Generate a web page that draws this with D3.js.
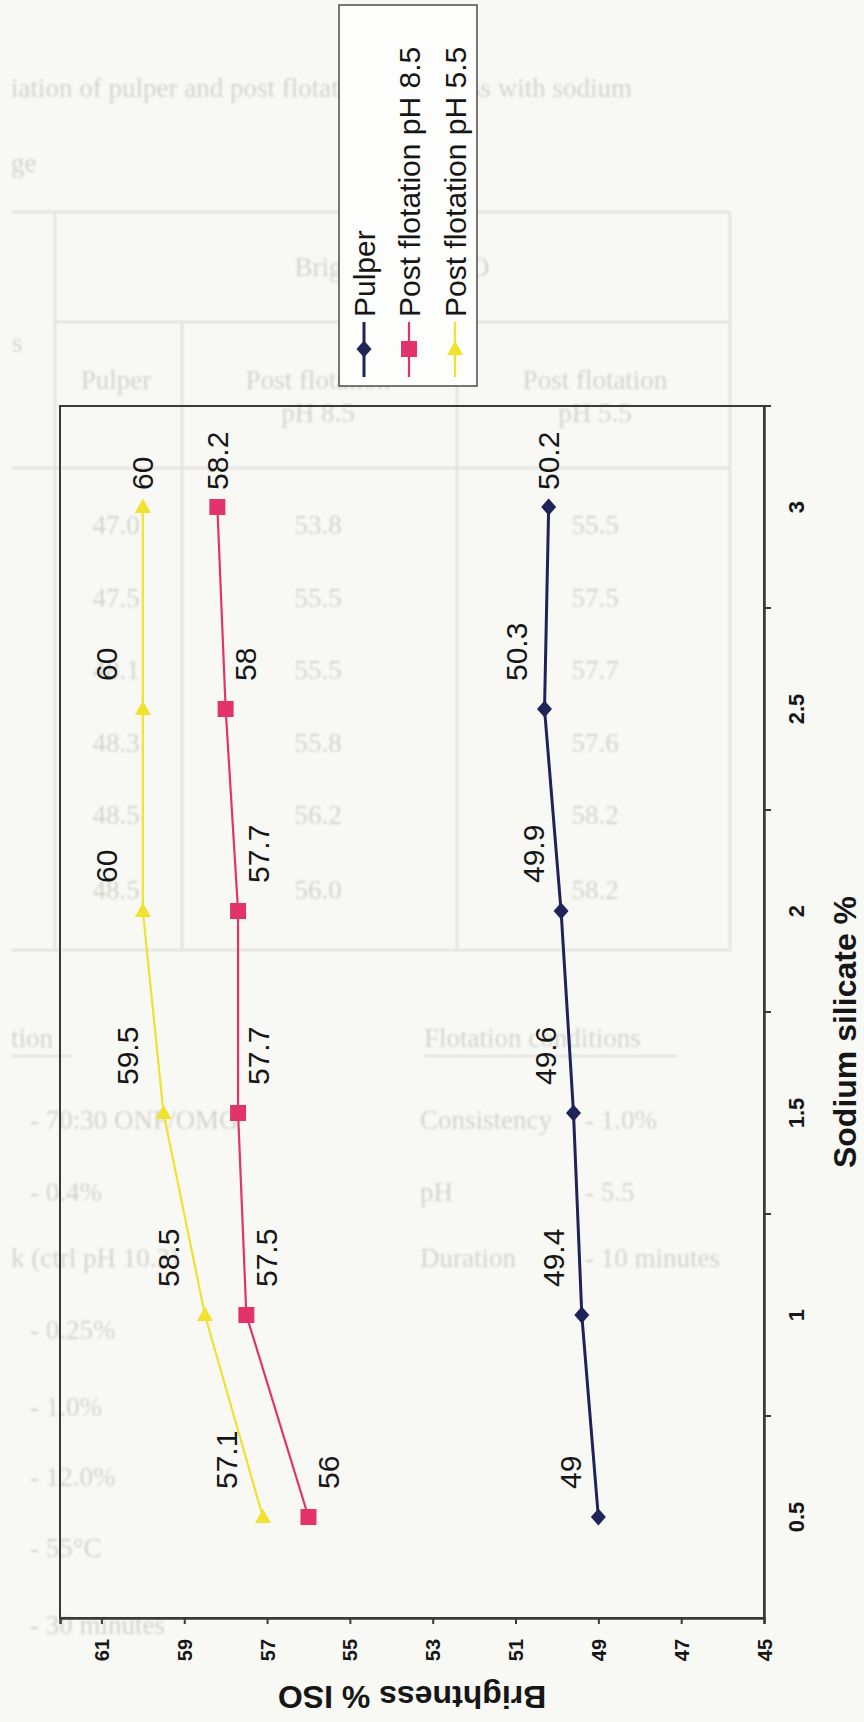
<!DOCTYPE html>
<html>
<head>
<meta charset="utf-8">
<script src="https://cdn.jsdelivr.net/npm/d3@7"></script>
<style>
  html, body { margin: 0; padding: 0; background: #f8f8f5; }
  svg { display: block; }
</style>
</head>
<body>
<svg id="chart" width="864" height="1722"></svg>
<script>
// ---- chart data ----
const categories = ["0.5", "1", "1.5", "2", "2.5", "3"];          // sodium silicate %
const pulper = [49, 49.4, 49.6, 49.9, 50.3, 50.2];
const postFlotationPH85 = [56, 57.5, 57.7, 57.7, 58, 58.2];
const postFlotationPH55 = [57.1, 58.5, 59.5, 60, 60, 60];
const seriesNames = ["Pulper", "Post flotation pH 8.5", "Post flotation pH 5.5"];
const brightnessTicks = [45, 47, 49, 51, 53, 55, 57, 59, 61];
const brightnessTitle = "Brightness % ISO";
const silicateTitle = "Sodium silicate %";

// ---- printed page underneath (faint) ----
const pageCaption = ["iation of pulper and post flotation brightness with sodium", "ge"];
const tableHeader = "Brightness % ISO";
const tableColumns = [["Pulper"], ["Post flotation", "pH 8.5"], ["Post flotation", "pH 5.5"]];
const tablePulper = ["47.0", "47.5", "48.1", "48.3", "48.5", "48.5"];
const tablePH85 = ["53.8", "55.5", "55.5", "55.8", "56.2", "56.0"];
const tablePH55 = ["55.5", "57.5", "57.7", "57.6", "58.2", "58.2"];
const pulpingLines = ["- 70:30 ONP/OMG", "- 0.4%", "k (ctrl pH 10.2)", "- 0.25%", "- 1.0%", "- 12.0%", "- 55°C", "- 30 minutes"];
const flotationKeys = ["Consistency", "pH", "Duration"];
const flotationValues = ["- 1.0%", "- 5.5", "- 10 minutes"];
const sectionHeads = ["tion", "Flotation conditions"];

const svg = d3.select("#chart");

// ---------- faint page layer ----------
const defs = svg.append("defs");
defs.append("filter").attr("id", "soft")
  .append("feGaussianBlur").attr("stdDeviation", 0.9);

const page = svg.append("g").attr("filter", "url(#soft)");
const faint = "#d3d3ce";
const serif = "'Liberation Serif', 'DejaVu Serif', serif";

function pageText(t, px, py, anchor, size) {
  page.append("text").attr("x", px).attr("y", py)
    .attr("text-anchor", anchor || "start")
    .attr("dominant-baseline", "central")
    .attr("font-family", serif).attr("font-size", size || 27)
    .attr("fill", faint).text(t);
}

pageText(pageCaption[0], 11, 88);
pageText(pageCaption[1], 11, 163);
pageText("s", 12, 343);

// table rules
const rule = (x1, y1, x2, y2) => page.append("line")
  .attr("x1", x1).attr("y1", y1).attr("x2", x2).attr("y2", y2)
  .attr("stroke", "#deded9").attr("stroke-width", 2);
rule(11, 212, 730, 212);
rule(55, 212, 55, 950);
rule(55, 322, 730, 322);
rule(11, 468, 730, 468);
rule(182, 322, 182, 950);
rule(457, 322, 457, 950);
rule(730, 212, 730, 950);
rule(11, 950, 730, 950);

pageText(tableHeader, 392, 267, "middle");
const colX = [116, 318, 595];
tableColumns.forEach((lines, i) => {
  lines.forEach((t, j) => pageText(t, colX[i], 380 + j * 33, "middle"));
});
const rowY = [525, 598, 670, 743, 815, 890];
[tablePulper, tablePH85, tablePH55].forEach((col, i) => {
  col.forEach((t, j) => pageText(t, colX[i], rowY[j], "middle"));
});

// conditions below the table
pageText(sectionHeads[0], 11, 1038);
pageText(sectionHeads[1], 424, 1038);
rule(11, 1056, 72, 1056);
rule(424, 1056, 678, 1056);
const condY = [1120, 1192, 1258, 1330, 1407, 1477, 1548, 1625];
pulpingLines.forEach((t, i) => pageText(t, i === 2 ? 11 : 30, condY[i]));
flotationKeys.forEach((t, i) => pageText(t, 420, condY[i]));
flotationValues.forEach((t, i) => pageText(t, 585, condY[i]));

// ---------- chart ----------
const frame = { left: 60, right: 764, top: 406, bottom: 1618 };
const x = d3.scaleLinear().domain([45, 62]).range([frame.right, frame.left]);
const y = d3.scaleBand().domain(categories).range([frame.bottom, frame.top]);
const yc = c => y(c) + y.bandwidth() / 2;

const sans = "'Liberation Sans', Arial, Helvetica, sans-serif";
const ink = "#161616";
const axisInk = "#3a3a3a";

const chart = svg.append("g");

// plot area border
chart.append("rect")
  .attr("x", frame.left).attr("y", frame.top)
  .attr("width", frame.right - frame.left).attr("height", frame.bottom - frame.top)
  .attr("fill", "none").attr("stroke", axisInk).attr("stroke-width", 2);

// brightness axis (runs along the bottom edge)
const bAxis = chart.append("g")
  .attr("transform", `translate(0,${frame.bottom})`)
  .call(d3.axisBottom(x).tickValues(brightnessTicks).tickSize(6).tickFormat(d3.format("d")));
bAxis.select(".domain").attr("stroke", axisInk).attr("stroke-width", 2.5);
bAxis.selectAll(".tick line").attr("stroke", axisInk).attr("stroke-width", 2);
bAxis.selectAll(".tick text")
  .attr("y", 0).attr("dy", null)
  .attr("transform", "translate(0,32) rotate(-90)")
  .attr("text-anchor", "middle").attr("dominant-baseline", "central")
  .attr("font-family", sans).attr("font-weight", "bold").attr("font-size", 20)
  .attr("fill", ink);

// sodium silicate axis (runs along the right edge), ticks between categories
const sAxis = chart.append("g")
  .attr("transform", `translate(${frame.right},0)`)
  .call(d3.axisRight(y).tickSize(0));
sAxis.select(".domain").attr("stroke", axisInk).attr("stroke-width", 2.5);
sAxis.selectAll(".tick text")
  .attr("x", 0).attr("dy", null)
  .attr("transform", "translate(32,0) rotate(-90)")
  .attr("text-anchor", "middle").attr("dominant-baseline", "central")
  .attr("font-family", sans).attr("font-weight", "bold").attr("font-size", 22)
  .attr("fill", ink);
sAxis.selectAll(".sep").data(categories).join("line")
  .attr("class", "sep")
  .attr("x1", 0).attr("x2", 7)
  .attr("y1", d => y(d)).attr("y2", d => y(d))
  .attr("stroke", axisInk).attr("stroke-width", 2);

// axis titles
chart.append("text")
  .attr("transform", `translate(${(frame.left + frame.right) / 2},1697) rotate(180)`)
  .attr("text-anchor", "middle").attr("dominant-baseline", "central")
  .attr("font-family", sans).attr("font-weight", "bold").attr("font-size", 32)
  .attr("fill", ink).text(brightnessTitle);
chart.append("text")
  .attr("transform", `translate(845,1032) rotate(-90)`)
  .attr("text-anchor", "middle").attr("dominant-baseline", "central")
  .attr("font-family", sans).attr("font-weight", "bold").attr("font-size", 32)
  .attr("fill", ink).text(silicateTitle);

// marker shapes
const shapes = {
  diamond: "M0,-8.5L7.5,0L0,8.5L-7.5,0Z",
  square: "M-8,-8H8V8H-8Z",
  triangle: "M0,-8.5L8,6L-8,6Z"
};

const series = [
  { name: seriesNames[0], values: pulper, color: "#1e2457", width: 3, shape: "diamond", dx: -28 },
  { name: seriesNames[1], values: postFlotationPH85, color: "#e2336c", width: 2.2, shape: "square", dx: 20 },
  { name: seriesNames[2], values: postFlotationPH55, color: "#f0e22e", width: 2.2, shape: "triangle", dx: -36 }
];

const line = d3.line().x(d => x(d.v)).y(d => yc(d.c));

series.forEach(s => {
  const pts = categories.map((c, i) => ({ c, v: s.values[i], i }));
  const g = chart.append("g");
  g.append("path").datum(pts)
    .attr("d", line).attr("fill", "none")
    .attr("stroke", s.color).attr("stroke-width", s.width)
    .attr("stroke-linejoin", "round");
  g.selectAll(".m").data(pts).join("path")
    .attr("class", "m")
    .attr("transform", d => `translate(${x(d.v)},${yc(d.c)})`)
    .attr("d", shapes[s.shape]).attr("fill", s.color);
  // value labels, reading upward next to each point
  const last = categories.length - 1;
  g.selectAll(".lbl").data(pts).join("text")
    .attr("class", "lbl")
    .attr("transform", d => {
      const lx = x(d.v) + (d.i === last ? 0 : s.dx);
      const ly = yc(d.c) - (d.i === last ? 17 : 28);
      return `translate(${lx},${ly}) rotate(-90)`;
    })
    .attr("text-anchor", "start").attr("dominant-baseline", "central")
    .attr("font-family", sans).attr("font-size", 30).attr("fill", ink)
    .text(d => d3.format("~g")(d.v));
});

// legend
const legend = svg.append("g");
legend.append("rect")
  .attr("x", 339).attr("y", 5).attr("width", 138).attr("height", 381)
  .attr("fill", "#fdfdfb").attr("stroke", "#4a4a4a").attr("stroke-width", 1.5);
const legendX = [364, 409, 455];
series.forEach((s, i) => {
  const lx = legendX[i];
  legend.append("line")
    .attr("x1", lx).attr("x2", lx).attr("y1", 322).attr("y2", 377)
    .attr("stroke", s.color).attr("stroke-width", s.width);
  legend.append("path")
    .attr("transform", `translate(${lx},349)`)
    .attr("d", shapes[s.shape]).attr("fill", s.color);
  legend.append("text")
    .attr("transform", `translate(${lx},317) rotate(-90)`)
    .attr("text-anchor", "start").attr("dominant-baseline", "central")
    .attr("font-family", sans).attr("font-size", 30).attr("fill", ink)
    .text(s.name);
});
</script>
</body>
</html>
